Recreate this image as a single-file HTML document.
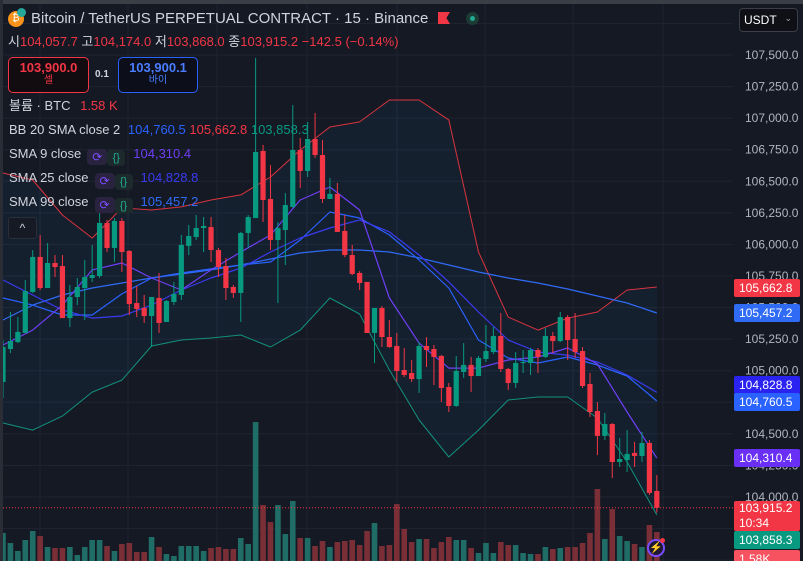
<!DOCTYPE html>
<html><head><meta charset="utf-8">
<style>
html,body{margin:0;padding:0;background:#151924;}
#root{position:relative;width:803px;height:561px;overflow:hidden;background:#151924;font-family:"Liberation Sans","Noto Sans CJK KR",sans-serif;color:#d1d4dc;}
svg{position:absolute;left:0;top:0;}
.t{position:absolute;white-space:nowrap;font-size:13px;line-height:16px;}
.r{color:#f23645}
.ic{display:inline-block;width:20px;height:16px;border-radius:4px;background:#2a2340;vertical-align:-3px;margin-left:6px;color:#7b4dff;font-size:12px;text-align:center;line-height:16px}
.ic2{display:inline-block;width:18px;height:16px;border-radius:4px;background:#1c2a2c;vertical-align:-3px;color:#22ab94;font-size:11px;text-align:center;line-height:16px;margin-right:8px}
.badge{position:absolute;left:734px;width:66px;height:18px;font-size:12px;line-height:18px;color:#fff;padding-left:5px;box-sizing:border-box;border-radius:2px}
</style></head><body>
<div id="root">
<svg id="chart" width="803" height="561"></svg>

<div style="position:absolute;left:0;top:0;width:803px;height:4px;background:#3b3e46"></div>
<div style="position:absolute;left:0;top:0;width:3px;height:561px;background:#2a2d35"></div>

<div class="t" style="left:8px;top:11px;width:16px;height:16px;border-radius:8px;background:#f7931a;font-size:10px;line-height:16px;text-align:center;color:#fff">₿</div>
<div style="position:absolute;left:17px;top:8px;width:9px;height:9px;border-radius:5px;background:#26a69a"></div>
<div class="t" style="left:31px;top:10px;font-size:15px;line-height:18px;color:#d1d4dc">Bitcoin / TetherUS PERPETUAL CONTRACT · 15 · Binance</div>
<div style="position:absolute;left:438px;top:12px;width:12px;height:12px;background:#f23645;clip-path:polygon(0 0,100% 0,70% 50%,100% 100%,0 100%)"></div>
<div style="position:absolute;left:466px;top:12px;width:13px;height:13px;border-radius:7px;background:#1d3b35"><div style="position:absolute;left:4px;top:4px;width:5px;height:5px;border-radius:3px;background:#22ab94"></div></div>

<div class="t" style="left:8px;top:34px">시<span class="r">104,057.7</span> 고<span class="r">104,174.0</span> 저<span class="r">103,868.0</span> 종<span class="r">103,915.2</span> <span class="r">−142.5 (−0.14%)</span></div>

<div style="position:absolute;left:8px;top:57px;width:79px;height:34px;border:1px solid #f23645;border-radius:5px;background:#120b0f;text-align:center"><div style="color:#f23645;font-size:13px;font-weight:bold;margin-top:2px">103,900.0</div><div style="color:#f23645;font-size:10px;line-height:12px">셀</div></div>
<div class="t" style="left:95px;top:67px;font-size:10px;font-weight:bold">0.1</div>
<div style="position:absolute;left:118px;top:57px;width:78px;height:34px;border:1px solid #2962ff;border-radius:5px;background:#0c0f1a;text-align:center"><div style="color:#4a7dff;font-size:13px;font-weight:bold;margin-top:2px">103,900.1</div><div style="color:#4a7dff;font-size:10px;line-height:12px">바이</div></div>

<div class="t" style="left:9px;top:98px">볼륨 · BTC <span class="r" style="margin-left:6px">1.58 K</span></div>
<div class="t" style="left:9px;top:122px">BB 20 SMA close 2 <span style="color:#2962ff;margin-left:4px">104,760.5</span> <span class="r">105,662.8</span> <span style="color:#089981">103,858.3</span></div>
<div class="t" style="left:9px;top:146px">SMA 9 close<span class="ic">⟳</span><span class="ic2">{}</span><span style="color:#6f3ff5">104,310.4</span></div>
<div class="t" style="left:9px;top:170px">SMA 25 close<span class="ic">⟳</span><span class="ic2">{}</span><span style="color:#3a3af0">104,828.8</span></div>
<div class="t" style="left:9px;top:194px">SMA 99 close<span class="ic">⟳</span><span class="ic2">{}</span><span style="color:#2f6bf5">105,457.2</span></div>
<div style="position:absolute;left:8px;top:217px;width:27px;height:20px;border:1px solid #2a2e39;border-radius:3px;background:#161a25;color:#d1d4dc;font-size:12px;text-align:center;line-height:20px">^</div>

<div style="position:absolute;left:739px;top:8px;width:59px;height:24px;border:1px solid #3a3e48;border-radius:4px;background:#0e1016;box-sizing:border-box"><span style="position:absolute;left:4px;top:4px;font-size:12px;color:#fff">USDT</span><span style="position:absolute;right:5px;top:4px;font-size:9px;color:#aaa">⌄</span></div>

<div id="axis"></div>

<div class="badge" style="top:279px;background:#f23645">105,662.8</div>
<div class="badge" style="top:304px;background:#2f6bf5">105,457.2</div>
<div class="badge" style="top:376px;background:#2a22f0">104,828.8</div>
<div class="badge" style="top:393px;background:#2962ff">104,760.5</div>
<div class="badge" style="top:449px;background:#6a2ff5">104,310.4</div>
<div class="badge" style="top:501px;height:30px;background:#f23645;line-height:15px;padding-top:0">103,915.2<br>10:34</div>
<div class="badge" style="top:531px;background:#089981">103,858.3</div>
<div class="badge" style="top:550px;background:#f7525f">1.58K</div>

<div style="position:absolute;left:647px;top:539px;width:18px;height:18px;border-radius:10px;border:2px solid #7b4dff;box-sizing:border-box;background:#1e1830;color:#9a77ff;font-size:11px;text-align:center;line-height:14px">⚡</div>
<div style="position:absolute;left:660px;top:538px;width:5px;height:5px;border-radius:3px;background:#f23645"></div>
</div>

<script>
const opens=[104911,105172,105227,105299,105623,105901,105655,105853,105829,105417,105584,105655,105734,105750,106170,105972,106186,105948,105536,105497,105433,105576,105386,105544,105600,105988,106059,106130,106138,105956,105829,105663,105616,106091,106209,106740,106360,106035,106114,106297,106748,106582,106835,106708,106360,106400,106107,105916,105774,105703,105299,105497,105267,105196,105006,104982,104934,105196,105172,105117,104871,104721,104990,105046,104958,105093,105148,105275,105014,104903,105061,105061,105164,105109,105275,105235,105425,105251,105156,104895,104681,104484,104578,104277,104293,104349,104325,104428,104048];
const highs=[105243,105465,105425,105718,105956,106075,106011,105916,105916,105679,105734,105877,105996,106249,106194,106209,106209,105956,105671,105600,105584,105774,105560,105703,106075,106154,106233,106217,106217,105972,105893,105679,106099,106233,107477,106788,106629,106178,106407,107104,106843,106970,107041,106827,106526,106487,106233,105996,105790,105703,105497,105513,105402,105299,105180,105085,105227,105267,105204,105125,104903,105117,105219,105109,105117,105362,105346,105457,105022,105148,105164,105180,105180,105338,105307,105465,105441,105457,105188,104982,104752,104665,104586,104467,104530,104436,104515,104451,104174];
const lows=[104784,105140,105219,105299,105616,105639,105655,105742,105417,105346,105520,105402,105703,105734,105940,105861,105782,105441,105425,105378,105188,105299,105386,105520,105560,105916,106035,105940,105861,105742,105560,105576,105386,105972,106209,106178,105956,105536,105837,106289,106447,106534,106685,106328,106360,106099,105900,105758,105639,105299,105061,105188,105180,104911,104950,104911,104824,105029,104887,104752,104673,104713,104943,104832,104958,105069,105132,104990,104848,104864,104982,104966,104982,105101,105140,105227,105085,105101,104863,104634,104332,104451,104150,104238,104198,104238,104277,104016,103876];
const closes=[105188,105235,105307,105631,105901,105655,105853,105821,105417,105584,105663,105742,105758,106170,105972,106186,105940,105528,105489,105433,105584,105378,105552,105608,105996,106067,106130,106146,105956,105821,105655,105616,106091,106217,106732,106352,106035,106130,106312,106748,106582,106835,106708,106360,106400,106099,105916,105766,105695,105299,105497,105267,105188,104998,104966,104934,105196,105164,105109,104863,104721,104998,105046,104958,105101,105156,105275,105014,104903,105061,105069,105164,105109,105275,105235,105425,105243,105148,104879,104673,104484,104578,104277,104301,104341,104325,104428,104032,103915];
const volumes=[1530,980,545,1145,1635,1360,763,708,708,763,327,763,1145,1145,818,545,927,981,490,490,1308,763,381,272,818,818,818,545,708,763,654,654,1253,927,7575,3052,2125,3052,1471,3270,1253,1253,818,1090,763,1035,1090,1145,872,1635,2071,818,872,3106,1744,1035,1199,1199,708,1035,1308,1145,1145,708,436,981,436,1035,872,872,436,381,381,763,654,708,763,763,981,1526,3924,1199,2834,1362,1090,927,763,1962,1580];
const sampleIdx=[0,4,8,12,16,20,24,28,32,36,40,44,48,52,56,60,64,68,72,76,80,84,88];
const bbUpper=[106566,106510,106233,106051,106289,106273,106297,106352,106392,106534,106748,106930,106970,107144,107144,106986,105940,105425,105322,105417,105465,105639,105663];
const bbLower=[104586,104530,104641,104831,104926,105196,105243,105259,105283,105188,105322,105576,105449,105006,104610,104317,104530,104768,104792,104792,104625,104277,103858];
const bbBasis=[105576,105520,105441,105441,105608,105734,105774,105806,105837,105861,106035,106257,106209,106075,105877,105655,105243,105101,105061,105109,105045,104958,104760];
const sma9=[105204,105322,105520,105798,105853,105734,105639,105798,105940,106075,106352,106455,106273,105576,105219,105021,105021,105085,105109,105180,105053,104673,104310];
const sma25=[105718,105600,105481,105417,105433,105520,105639,105734,105813,105940,106051,106130,106194,106099,105916,105703,105465,105243,105148,105124,105069,104966,104829];
const sma99=[105402,105520,105600,105655,105695,105734,105766,105798,105837,105885,105932,105956,105956,105940,105893,105837,105782,105734,105695,105647,105592,105536,105457];
const priceTicks=[107500,107250,107000,106750,106500,106250,106000,105750,105500,105250,105000,104750,104500,104250,104000];
const lastPrice=103915.2;

const NS='http://www.w3.org/2000/svg';
const svg=document.getElementById('chart');
const xOf=i=>3+i*7.43;
const yOf=p=>55+(107500-p)*0.12629;
const vOf=v=>561-v/54.5;
const plotW=733;
function mk(tag,attrs){const e=document.createElementNS(NS,tag);for(const k in attrs)e.setAttribute(k,attrs[k]);svg.appendChild(e);return e;}

// grid
[40,128,217,307,397,485,573,663].forEach(x=>{const l=mk('line',{x1:x,x2:x,y1:0,y2:561,stroke:'#1f2431','stroke-width':1});

});
[-31,0].concat([]).forEach(()=>{});
const extTicks=[107750].concat(priceTicks).concat([103750,103500]);
extTicks.forEach(p=>{const y=yOf(p);const l=mk('line',{x1:0,x2:plotW,y1:y,y2:y,stroke:'#1f2431','stroke-width':1});

});

// BB fill
let pts=sampleIdx.map((s,k)=>xOf(s)+','+yOf(bbUpper[k]));
let back=sampleIdx.map((s,k)=>xOf(s)+','+yOf(bbLower[k])).reverse();
const fill=mk('polygon',{points:pts.concat(back).join(' '),fill:'rgba(33,150,243,0.06)'});



// volume
volumes.forEach((v,i)=>{const up=closes[i]>=opens[i];const y=vOf(v);const r=mk('rect',{x:xOf(i)-2.8,y:y,width:5.6,height:561-y,fill:up?'#1f6d66':'#7a2f37'});

});

// last price dotted
const lp=mk('line',{x1:0,x2:plotW,y1:yOf(lastPrice),y2:yOf(lastPrice),stroke:'#f23645','stroke-width':1,'stroke-dasharray':'1 2'});



function line(arr,color,name,w){const d=sampleIdx.map((s,k)=>(k?'L':'M')+xOf(s).toFixed(1)+' '+yOf(arr[k]).toFixed(1)).join(' ');
const p=mk('path',{d:d,fill:'none',stroke:color,'stroke-width':w||1.2,'stroke-linejoin':'round'});

}
line(bbUpper,'#d9343f','bb-upper-line',1);
line(bbLower,'#12917c','bb-lower-line',1);
line(sma99,'#2f6bf5','sma99-line');
line(bbBasis,'#2962ff','bb-basis-line');
line(sma25,'#3a3af0','sma25-line');
line(sma9,'#6f3ff5','sma9-line');

// candles
opens.forEach((o,i)=>{const c=closes[i];const up=c>=o;const col=up?'#089981':'#f23645';const x=xOf(i);
const w=mk('line',{x1:x,x2:x,y1:yOf(highs[i]),y2:yOf(lows[i]),stroke:col,'stroke-width':1});


const top=yOf(Math.max(o,c)),bot=yOf(Math.min(o,c));
const b=mk('rect',{x:x-2.6,y:top,width:5.2,height:Math.max(1,bot-top),fill:col});

});

// axis labels
priceTicks.forEach(p=>{const t=mk('text',{x:745,y:yOf(p)+4,fill:'#b2b5be','font-size':12,'font-family':'Liberation Sans, sans-serif'});
t.textContent=p.toLocaleString('en-US',{minimumFractionDigits:1});

});
</script>
</body></html>
